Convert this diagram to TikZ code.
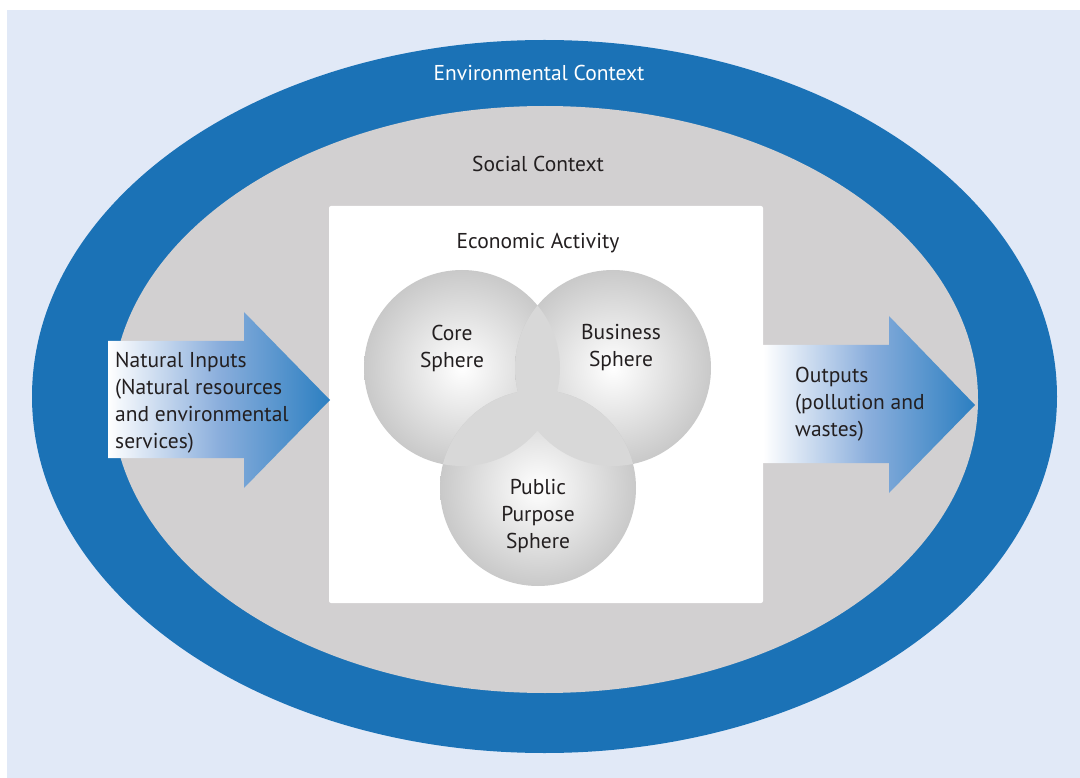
\documentclass[tikz,border=0pt]{standalone}
\usepackage{fontspec}
\setmainfont{PT Sans}
\definecolor{bgblue}{HTML}{E1E9F7}
\definecolor{envblue}{HTML}{1B72B6}
\definecolor{socgray}{HTML}{D2D0D1}
\definecolor{spheregray}{HTML}{C9C9C9}
\definecolor{lensgray}{HTML}{D8D8D8}
\definecolor{arrowblue}{HTML}{2C7FC1}
\definecolor{arrowmid}{HTML}{8AAEDC}
\definecolor{textdark}{HTML}{231F20}
\tikzset{
  lbl/.style={font=\fontsize{21.5}{27}\selectfont, text=textdark, inner sep=0pt, align=center},
  lbll/.style={font=\fontsize{21.5}{27}\selectfont, text=textdark, inner sep=0pt, align=left},
  sphere/.style={inner color=white, outer color=spheregray},
  flowarrow/.style={left color=white, right color=arrowblue, middle color=arrowmid},
}
\begin{document}
\begin{tikzpicture}[x=1pt,y=-1pt]
\useasboundingbox (0,0) rectangle (1080,778);
\fill[white] (0,0) rectangle (1080,778);
\fill[bgblue] (7,10) rectangle (1080,778);
% environmental context
\fill[envblue] (544.5,396.5) ellipse [x radius=512.5, y radius=356.5];
\node[lbl, text=white] (env) at (539,73) {Environmental Context};
% social context
\fill[socgray] (545,399.5) ellipse [x radius=433, y radius=293.5];
\node[lbl] (soc) at (538,164) {Social Context};
% economic box
\fill[white, rounded corners=2pt] (329,206) rectangle (763,603);
\node[lbl] (eco) at (538,243) {Economic Activity};
% spheres
\shade[sphere] (462,368) circle [radius=98];
\shade[sphere] (613,368) circle [radius=98];
\shade[sphere] (538,488) circle [radius=98];
\begin{scope}
  \clip (462,368) circle [radius=98];
  \fill[lensgray] (613,368) circle [radius=98];
  \fill[lensgray] (538,488) circle [radius=98];
\end{scope}
\begin{scope}
  \clip (613,368) circle [radius=98];
  \fill[lensgray] (538,488) circle [radius=98];
\end{scope}
\node[lbl] (core) at (452,348) {Core\\Sphere};
\node[lbl] (bus) at (621,348) {Business\\Sphere};
\node[lbl] (pub) at (538,516) {Public\\Purpose\\Sphere};
% arrows
\shade[flowarrow] (108,341) -- (244,341) -- (244,312) -- (330,400) -- (244,488) -- (244,458) -- (108,458) -- cycle;
\node[lbll, anchor=west] (inp) at (115,403) {Natural Inputs\\(Natural resources\\and environmental\\services)};
\shade[flowarrow] (763,345) -- (889,345) -- (889,316) -- (975,405) -- (889,493) -- (889,463) -- (763,463) -- cycle;
\node[lbll, anchor=west] (out) at (795,404) {Outputs\\(pollution and\\wastes)};
\end{tikzpicture}
\end{document}
